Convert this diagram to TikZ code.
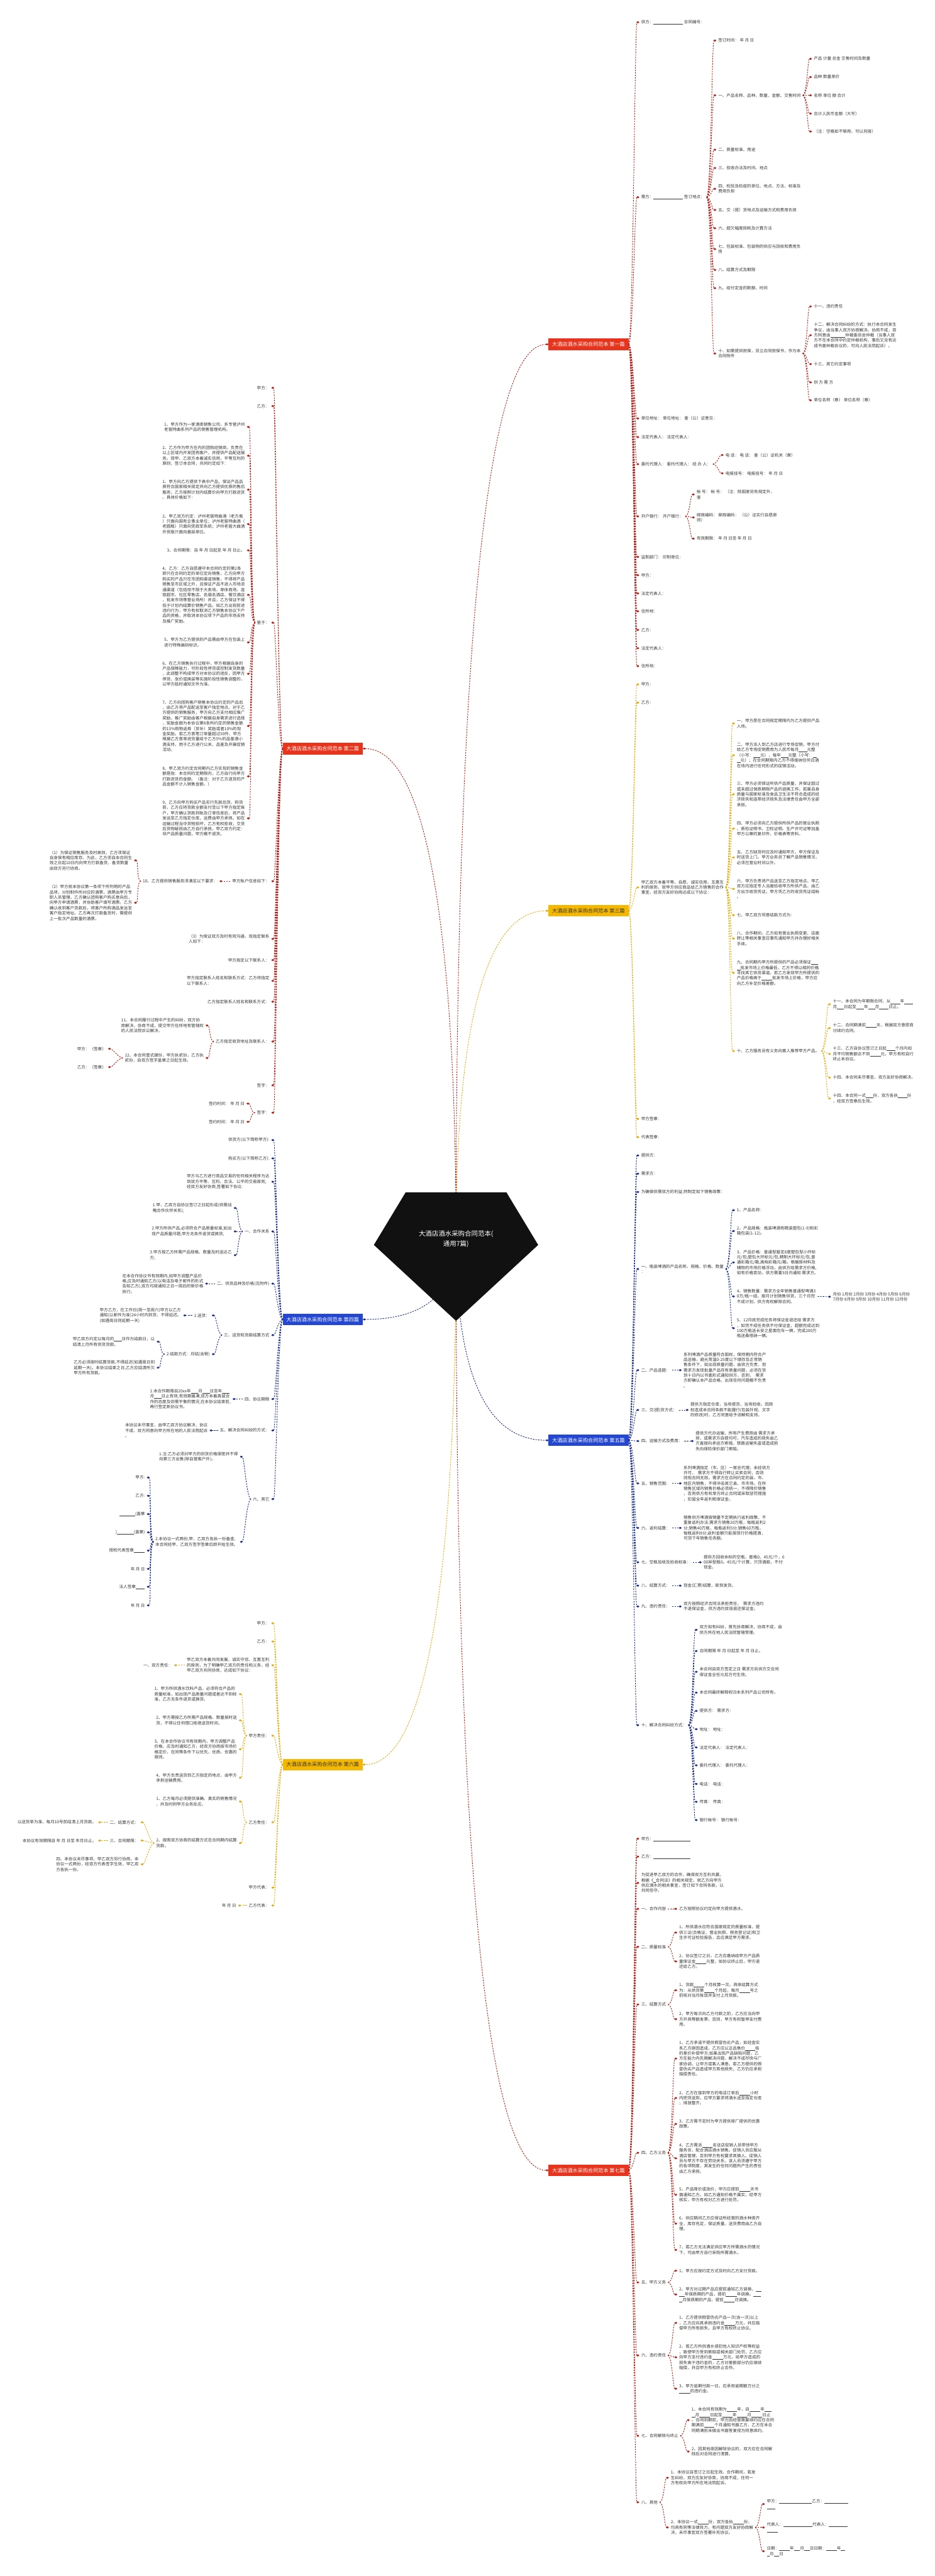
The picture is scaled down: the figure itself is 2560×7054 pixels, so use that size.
\documentclass[tikz,border=0pt]{standalone}
\usepackage{fontspec}
\setmainfont{Noto Sans CJK SC}
\usetikzlibrary{arrows.meta}
\definecolor{boxred}{HTML}{E8341C}
\definecolor{linered}{HTML}{B3211B}
\definecolor{boxyel}{HTML}{F5B800}
\definecolor{lineyel}{HTML}{E3A90E}
\definecolor{boxblue}{HTML}{2447D3}
\definecolor{lineblue}{HTML}{1B2C8A}
\definecolor{txtgray}{HTML}{333333}
\definecolor{rootblack}{HTML}{111111}
\newcommand{\leaffont}{\fontsize{11.3pt}{14.4pt}\selectfont}
\newcommand{\branchfont}{\fontsize{14pt}{16pt}\selectfont}
\newcommand{\rootfont}{\fontsize{18pt}{27pt}\selectfont}
\newcommand{\fillin}[1]{\rule[-1.5pt]{#1pt}{0.6pt}}
\begin{document}
\begin{tikzpicture}[x=1pt,y=-1pt,line join=round,font=\leaffont]
\tikzset{
  leafr/.style={anchor=west,align=left,inner xsep=5pt,inner ysep=1pt,text=txtgray},
  leafl/.style={leafr,anchor=east},
  branch/.style={minimum width=219pt,minimum height=32pt,inner sep=0pt,font=\branchfont},
  redbox/.style={branch,fill=boxred,text=white},
  yelbox/.style={branch,fill=boxyel,text=txtgray},
  bluebox/.style={branch,fill=boxblue,text=white},
  link/.style={dash pattern=on 4pt off 3pt,line width=1.6pt,-{Diamond[length=8pt,width=6pt]}},
  redlink/.style={link,draw=linered},
  yellink/.style={link,draw=lineyel},
  bluelink/.style={link,draw=lineblue},
  rootlabel/.style={text=white,font=\rootfont,align=center,inner sep=0pt}
}
\useasboundingbox (0,0) rectangle (2560,7054);
\coordinate (hub) at (1249,3400);

% branch boxes
\node[redbox] (b1) at (1612,943) {大酒店酒水采购合同范本 第一篇};
\node[redbox] (b2) at (884,2050) {大酒店酒水采购合同范本 第二篇};
\node[yelbox] (b3) at (1612,2494) {大酒店酒水采购合同范本 第三篇};
\node[bluebox] (b4) at (884,3613) {大酒店酒水采购合同范本 第四篇};
\node[bluebox] (b5) at (1612,3944) {大酒店酒水采购合同范本 第五篇};
\node[yelbox] (b6) at (884,4832) {大酒店酒水采购合同范本 第六篇};
\node[redbox] (b7) at (1612,5943) {大酒店酒水采购合同范本 第七篇};

\draw[redlink] (hub) .. controls +(0,-1300) and +(-200,0) .. (b1.west);
\draw[redlink] (hub) .. controls +(0,-700) and +(200,0) .. (b2.east);
\draw[yellink] (hub) .. controls +(0,-480) and +(-200,0) .. (b3.west);
\draw[bluelink] (hub) .. controls +(0,110) and +(200,0) .. (b4.east);
\draw[bluelink] (hub) .. controls +(0,290) and +(-200,0) .. (b5.west);
\draw[yellink] (hub) .. controls +(0,760) and +(200,0) .. (b6.east);
\draw[redlink] (hub) .. controls +(0,1350) and +(-200,0) .. (b7.west);

% ---------- first
\node[leafr] (a1) at (1751,61) {供方：\fillin{81} 合同编号：};
\node[leafr] (a2) at (1751,540) {需方：\fillin{81} 签订地点：};
\node[leafr] (a3) at (1751,1146) {单位地址： 单位地址： 鉴（公）证意见：};
\node[leafr] (a4) at (1751,1197) {法定代表人： 法定代表人：};
\node[leafr] (a5) at (1751,1271) {委托代理人： 委托代理人： 经 办 人：};
\node[leafr] (a6) at (1751,1414) {开户银行： 开户银行：};
\node[leafr] (a7) at (1751,1525) {监制部门： 印制单位：};
\node[leafr] (a8) at (1751,1575) {甲方：};
\node[leafr] (a9) at (1751,1625) {法定代表人：};
\node[leafr] (a10) at (1751,1674) {住所地：};
\node[leafr] (a11) at (1751,1725) {乙方：};
\node[leafr] (a12) at (1751,1775) {法定代表人：};
\node[leafr] (a13) at (1751,1824) {住所地：};
\foreach \i in {1,...,13} \draw[redlink] (b1.east) .. controls +(12,0) and +(-12,0) .. (a\i.west);

\node[leafr] (c1) at (1962,111) {签订时间： 年 月 日};
\node[leafr] (c2) at (1962,261) {一、产品名称、品种、数量、金额、交售时间};
\node[leafr] (c3) at (1962,410) {二、质量标准、用途};
\node[leafr] (c4) at (1962,460) {三、验收办法及时间、地点};
\node[leafr] (c5) at (1962,517) {四、检验及检疫的单位、地点、方法、标准及\\费用负担};
\node[leafr] (c6) at (1962,575) {五、交（提）货地点及运输方式和费用负担};
\node[leafr] (c7) at (1962,625) {六、超欠幅度损耗及计算方法};
\node[leafr] (c8) at (1962,682) {七、包装标准、包装物的供应与回收和费用负\\担};
\node[leafr] (c9) at (1962,739) {八、结算方式及期限};
\node[leafr] (c10) at (1962,789) {九、给付定金的数额、时间};
\node[leafr] (c11) at (1962,968) {十、如需提供担保，另立合同担保书，作为本\\合同附件};
\foreach \i in {1,...,11} \draw[redlink] (a2.east) .. controls +(12,0) and +(-12,0) .. (c\i.west);

\node[leafr] (d1) at (2224,161) {产品 计量 总金 交售时间及数量};
\node[leafr] (d2) at (2224,211) {品种 数量单价};
\node[leafr] (d3) at (2224,261) {名称 单位 额 合计};
\node[leafr] (d4) at (2224,311) {合计人民币金额（大写）};
\node[leafr] (d5) at (2224,360) {（注：空格如不够用，可以另接）};
\foreach \i in {1,...,5} \draw[redlink] (c2.east) .. controls +(12,0) and +(-12,0) .. (d\i.west);

\node[leafr] (e1) at (2224,839) {十一、违约责任};
\node[leafr] (e2) at (2224,918) {十二、解决合同纠纷的方式：执行本合同发生\\争议，由当事人双方协商解决。协商不成，双\\方同意由\fillin{41}仲裁委员会仲裁（当事人双\\方不在本合同中约定仲裁机构，事后又没有达\\成书面仲裁协议的，可向人民法院起诉）。};
\node[leafr] (e3) at (2224,997) {十三、其它约定事项};
\node[leafr] (e4) at (2224,1047) {供 方 需 方};
\node[leafr] (e5) at (2224,1096) {单位名称（章） 单位名称（章）};
\foreach \i in {1,...,5} \draw[redlink] (c11.east) .. controls +(12,0) and +(-12,0) .. (e\i.west);

\node[leafr] (f1) at (1982,1246) {电 话： 电 话： 鉴（公）证机关（章）};
\node[leafr] (f2) at (1982,1296) {电报挂号： 电报挂号： 年 月 日};
\foreach \i in {1,2} \draw[redlink] (a5.east) .. controls +(12,0) and +(-12,0) .. (f\i.west);

\node[leafr] (g1) at (1903,1354) {帐 号： 帐 号： （注：除国家另有规定外，\\鉴};
\node[leafr] (g2) at (1903,1417) {邮政编码： 邮政编码： （公）证实行自愿原\\则）};
\node[leafr] (g3) at (1903,1475) {有效期限： 年 月 日至 年 月 日};
\foreach \i in {1,2,3} \draw[redlink] (a6.east) .. controls +(12,0) and +(-12,0) .. (g\i.west);

% ---------- third
\node[leafr] (h1) at (1751,1874) {甲方：};
\node[leafr] (h2) at (1751,1924) {乙方：};
\node[leafr] (h3) at (1751,2430) {甲乙双方本着平等、自愿、诚实信用、互惠互\\利的原则，就甲方供应商品给乙方销售的合作\\事宜，经双方友好协商达成以下协议：};
\node[leafr] (h4) at (1751,3064) {甲方签章：};
\node[leafr] (h5) at (1751,3114) {代表签章：};
\foreach \i in {1,...,5} \draw[yellink] (b3.east) .. controls +(12,0) and +(-12,0) .. (h\i.west);

\node[leafr] (i1) at (2013,1981) {一、甲方愿在合同规定期限内为乙方提供产品\\入场。};
\node[leafr] (i2) at (2013,2068) {二、甲方派人到乙方店进行专场促销，甲方付\\给乙方专场促销费用为人民币每月\fillin{23}元整\\（小写：\fillin{19}元），每年\fillin{20}元整（小写：\fillin{10}\\\fillin{10}元）；在合同期限内乙方不得接纳任何白酒\\在场内进行任何形式的促销活动。};
\node[leafr] (i3) at (2013,2175) {三、甲方必须保证所供产品质量，并保证超过\\或未超过保质期限产品的退换工作。若属自身\\质量与国家标准及食品卫生法不符合造成的经\\济损失和连带经济损失及法律责任由甲方全部\\承担。};
\node[leafr] (i4) at (2013,2269) {四、甲方必须向乙方提供所供产品的营业执照\\、质检证明书、卫检证明、生产许可证等加盖\\甲方公章的复印件、价格表等资料。};
\node[leafr] (i5) at (2013,2348) {五、乙方缺货时应及时通知甲方，甲方保证及\\时送货上门。甲方业务员了解产品销售情况，\\必须在营业时间以外。};
\node[leafr] (i6) at (2013,2434) {六、甲方负责将产品送至乙方指定地点。甲乙\\双方应指定专人当面验收甲方所供产品，由乙\\方出示收货凭证。甲方凭乙方的收货凭证结帐\\。};
\node[leafr] (i7) at (2013,2506) {七、甲乙双方同意结款方式为：};
\node[leafr] (i8) at (2013,2570) {八、合作期间，乙方如有营业执照变更、店面\\转让等相关事宜应事先通知甲方并办理好相关\\手续。};
\node[leafr] (i9) at (2013,2664) {九、合同期内甲方所提供的产品必须保证\fillin{19}\\\fillin{10}批发市场上价格最低，乙方不得以相同价格\\寻找其它供货渠道。若乙方发现甲方所提供的\\产品价格高于\fillin{29}批发市场上价格，甲方应\\向乙方补足价格差额。};
\node[leafr] (i10) at (2013,2878) {十、乙方服务员有义务向客人推荐甲方产品。};
\foreach \i in {1,...,10} \draw[yellink] (h3.east) .. controls +(12,0) and +(-12,0) .. (i\i.west);

\node[leafr] (j1) at (2276,2750) {十一、本合同为年期限合同，从\fillin{26}年\fillin{24}\\月\fillin{19}日起至\fillin{21}年\fillin{19}月\fillin{26}日止。};
\node[leafr] (j2) at (2276,2815) {十二、合同期满前\fillin{29}天，根据双方意愿商\\讨续约合同。};
\node[leafr] (j3) at (2276,2886) {十三、乙方自协议签订之日起\fillin{24}个月内如\\月平均销售额达不到\fillin{29}元，甲方有权自行\\终止本协议。};
\node[leafr] (j4) at (2276,2951) {十四、本合同未尽事宜，双方友好协商解决。};
\node[leafr] (j5) at (2276,3008) {十四、本合同一式\fillin{20}份，双方各执\fillin{25}份\\，经双方签章后生效。};
\foreach \i in {1,...,5} \draw[yellink] (i10.east) .. controls +(12,0) and +(-12,0) .. (j\i.west);

% ---------- fifth
\node[leafr] (k1) at (1751,3164) {提供方：};
\node[leafr] (k2) at (1751,3214) {需求方：};
\node[leafr] (k3) at (1751,3264) {为确保供需双方的利益,特制定如下销售政策：};
\node[leafr] (k4) at (1751,3475) {一、瓶装啤酒的产品名称、规格、价格、数量\\：};
\node[leafr] (k5) at (1751,3752) {二、产品选题：};
\node[leafr] (k6) at (1751,3861) {三、交(提)货方式：};
\node[leafr] (k7) at (1751,3946) {四、运输方式及费用：};
\node[leafr] (k8) at (1751,4062) {五、销售范围：};
\node[leafr] (k9) at (1751,4184) {六、返利结算：};
\node[leafr] (k10) at (1751,4278) {七、空瓶加收及验收标准：};
\node[leafr] (k11) at (1751,4342) {八、结算方式：};
\node[leafr] (k12) at (1751,4399) {九、违约责任：};
\node[leafr] (k13) at (1751,4724) {十、解决合同纠纷方式：};
\foreach \i in {1,...,13} \draw[bluelink] (b5.east) .. controls +(12,0) and +(-12,0) .. (k\i.west);

\node[leafr] (l1) at (2013,3314) {1、产品名称：};
\node[leafr] (l2) at (2013,3371) {2、产品规格：瓶装啤酒有精装塑包(1-9)和彩\\箱包装(1-12)。};
\node[leafr] (l3) at (2013,3457) {3、产品价格：普通型暂定8度塑包型小环标\\元/包;塑包大环标元/包,精制大环标元/包,普\\通彩箱元/箱,高档彩箱元/箱。根据原材料及\\辅物的市场价格浮动，由供方给需求方价格,\\如有价格变动，供方需要3日内通知 需求方。};
\node[leafr] (l4) at (2013,3550) {4、销售数量：需求方全年销售普通型啤酒3\\0万/瓶一组，按月计划销售供货，三个月完\\不成计划，供方有权解除合同。};
\node[leafr] (l5) at (2013,3637) {5、12月底完成任务将保证金退还给 需求方\\，如完不成任务供不付保证金，超额完成达到\\100万瓶送长安之星面包车一辆，完成200万\\瓶送桑塔纳一辆。};
\foreach \i in {1,...,5} \draw[bluelink] (k4.east) .. controls +(12,0) and +(-12,0) .. (l\i.west);

\node[leafr] (m1) at (2276,3551) {月份 1月份 2月份 3月份 4月份 5月份 6月份\\7月份 8月份 9月份 10月份 11月份 12月份};
\draw[bluelink] (l4.east) -- (m1.west);

\node[leafr] (p5) at (1867,3752) {系列啤酒产品质量符合国标，保持期内符合产\\品运输，避光常温0-25度以下储存及正常销\\售条件下，如出现质量问题，由供方负责，但\\需求方发现批量产品存有质量问题，必须在货\\到十日内以书面形式通知供方，否则，\ \ 需求\\方即确认本产品合格，出现任何问题概不负责\\。};
\node[leafr] (p6) at (1886,3861) {提供方指定仓库，当场提货，当场验收。因商\\标造成本合同条款不能履行(包装外观、文字\\的修改)时，乙方同意给予谅解和支持。};
\node[leafr] (p7) at (1900,3946) {提供方代办运输，所有产生费用由 需求方承\\担，或需求方自提均可，汽车造成的损失由乙\\方直接向承运方索赔，铁路运输失盗或造成损\\失向保险保价部门索赔。};
\node[leafr] (p8) at (1867,4062) {系列啤酒指定（市、区）一家总代理，未经供方\\许可，\ \ 需求方不得自行转让买卖合同，否则\\则视合同无效。需求方在合同约定的县、市、\\地区内销售，不得冲击其它县、市市场。在所\\销售区域内销售价格必须统一，不得降价销售\\，否则供方有权单方终止合同或采取惩罚措施\\，扣留全年返利和保证金。};
\node[leafr] (p9) at (1867,4184) {销售供方啤酒按销量不定期执行返利政策、不\\重复返利办法;需求方销售20万瓶，每瓶返利2\\分;销售40万瓶，每瓶返利5分;销售60万瓶，\\每瓶返利8分;返利金额只能按现行价格提酒，\\可顶下年销售任务额。};
\node[leafr] (p10) at (1922,4278) {提供方回收本标的空瓶，普瓶0。45元/个，6\\00异型瓶0。45元/个计算，只顶酒款，不付\\现金。};
\node[leafr] (p11) at (1867,4342) {现金(汇票)结算，款到发货。};
\node[leafr] (p12) at (1867,4399) {双方按照经济合同法承担责任，\ \ 需求方违约\\不退保证金，供方违约双倍退还保证金。};
\foreach \i in {5,...,12} \draw[bluelink] (k\i.east) -- (p\i.west);

\node[leafr] (q1) at (1911,4463) {双方如有纠纷，首先协商解决，协商不成，由\\供方所在地人民法院管辖受理。};
\node[leafr] (q2) at (1911,4521) {合同期限 年 月 日起至 年 月 日止。};
\node[leafr] (q3) at (1911,4578) {本合同自双方签定之日 需求方向供方交合同\\保证金全任元后方可生效。};
\node[leafr] (q4) at (1911,4635) {本合同最终解释权归本系列产品公司所有。};
\node[leafr] (q5) at (1911,4685) {提供方： 需求方：};
\node[leafr] (q6) at (1911,4735) {地址： 地址：};
\node[leafr] (q7) at (1911,4785) {法定代表人： 法定代表人：};
\node[leafr] (q8) at (1911,4834) {委托代理人： 委托代理人：};
\node[leafr] (q9) at (1911,4885) {电话： 电话：};
\node[leafr] (q10) at (1911,4934) {传真： 传真：};
\node[leafr] (q11) at (1911,4984) {银行帐号： 银行帐号：};
\foreach \i in {1,...,11} \draw[bluelink] (k13.east) .. controls +(12,0) and +(-12,0) .. (q\i.west);

% ---------- seventh
\node[leafr] (r1) at (1751,5035) {甲方：\fillin{101}};
\node[leafr] (r2) at (1751,5084) {乙方：\fillin{101}};
\node[leafr] (r3) at (1751,5156) {为促进甲乙双方的合作，确保双方互利共赢，\\根据《\fillin{6}合同法》的相关规定，就乙方向甲方\\供应酒水的相关事宜，签订如下合同条款，以\\共同信守。};
\node[leafr] (r4) at (1751,5227) {一、合作内容};
\node[leafr] (r5) at (1751,5331) {二、质量标准};
\node[leafr] (r6) at (1751,5489) {三、结算方式};
\node[leafr] (r7) at (1751,5895) {四、乙方义务};
\node[leafr] (r8) at (1751,6250) {五、甲方义务};
\node[leafr] (r9) at (1751,6450) {六、违约责任};
\node[leafr] (r10) at (1751,6670) {七、合同解除与终止};
\node[leafr] (r11) at (1751,6852) {八、其他};
\foreach \i in {1,...,11} \draw[redlink] (b7.east) .. controls +(12,0) and +(-12,0) .. (r\i.west);

\node[leafr] (s1) at (1855,5227) {乙方按照协议约定向甲方提供酒水。};
\draw[redlink] (r4.east) -- (s1.west);
\node[leafr] (s2) at (1855,5292) {1、所供酒水应符合国家规定的质量标准，提\\供三证(合格证、营业执照、税务登记证)和卫\\生许可证检验报告，且应满足甲方需求。};
\node[leafr] (s3) at (1855,5371) {2、协议签订之日，乙方应缴纳给甲方产品质\\量保证金\fillin{29}元整，如协议终止后，甲方退\\还给乙方。};
\foreach \i in {2,3} \draw[redlink] (r5.east) .. controls +(12,0) and +(-12,0) .. (s\i.west);
\node[leafr] (s4) at (1855,5450) {1、货款\fillin{29}个月核算一次。具体结算方式\\为：从供货第\fillin{29}个月起，每月\fillin{29}号之\\前核对当月账目并支付上月货款。};
\node[leafr] (s5) at (1855,5529) {2、甲方每次向乙方付款之前，乙方应当向甲\\方开具等额发票，否则，甲方有权暂停支付费\\用。};
\foreach \i in {4,5} \draw[redlink] (r6.east) .. controls +(12,0) and +(-12,0) .. (s\i.west);

\node[leafr] (t1) at (1855,5637) {1、乙方承诺不提供假冒伪劣产品，如经查实\\系乙方原因造成，乙方应以正品售价\fillin{27}倍\\的差价补偿甲方;如果出现产品缺陷问题，乙\\方在能力内先期解决问题，解决不成尽快与厂\\家协调，让甲方或客人满意。若乙方提供的假\\冒伪劣产品造成甲方其他损失，乙方仍应承担\\赔偿责任。};
\node[leafr] (t2) at (1855,5745) {2、乙方在接到甲方的电话订单后\fillin{30}小时\\内把货送到，应甲方要求将酒水送至指定仓库\\，排放整齐。};
\node[leafr] (t3) at (1855,5816) {3、乙方需不定时为甲方提供原厂提供的优惠\\政策。};
\node[leafr] (t4) at (1855,5910) {4、乙方需派\fillin{29}名驻店促销人员带领甲方\\服务员，配合酒店酒水销售。促销人员应服从\\酒店管理，否则甲方有权要求其换人。促销人\\员与甲方不存在劳动关系，该人员须遵守甲方\\的各项制度，其发生的任何问题所产生的责任\\由乙方承担。};
\node[leafr] (t5) at (1855,6010) {5、产品降价或涨价，甲方应提前\fillin{30}天书\\面通知乙方。如乙方通知价格不属实，经甲方\\核实，甲方有权对乙方进行处罚。};
\node[leafr] (t6) at (1855,6089) {6、供应期间乙方应保证所经营的酒水种类齐\\全，库存充足，保证质量。送货费用由乙方自\\理。};
\node[leafr] (t7) at (1855,6161) {7、若乙方无法满足供应甲方所需酒水的情况\\下，可由甲方自行采购所需酒水。};
\foreach \i in {1,...,7} \draw[redlink] (r7.east) .. controls +(12,0) and +(-12,0) .. (t\i.west);

\node[leafr] (u1) at (1855,6218) {1、甲方应按约定方式及时向乙方支付货款。};
\node[leafr] (u2) at (1855,6283) {2、甲方对过期产品应提前通知乙方调换，\fillin{16}\\\fillin{15}年保质期的产品，提前\fillin{30}年调换。\fillin{20}\\\fillin{9}月保质期的产品，提前\fillin{30}月调换。};
\foreach \i in {1,2} \draw[redlink] (r8.east) .. controls +(12,0) and +(-12,0) .. (u\i.west);
\node[leafr] (u3) at (1855,6361) {1、乙方提供假冒伪劣产品一次(含一次)以上\\，乙方应向其承担违约金\fillin{29}万元，并应赔\\偿甲方所有损失，且甲方有权终止协议。};
\node[leafr] (u4) at (1855,6455) {2、若乙方所供酒水侵犯他人知识产权等权益\\，致使甲方受到索赔或相关部门处罚，乙方应\\向甲方支付违约金\fillin{30}万元，给甲方造成的\\损失高于违约金的，乙方对差额部分仍应继续\\赔偿，并且甲方有权终止合作。};
\node[leafr] (u5) at (1855,6541) {3、甲方逾期付款一日，应承担逾期额万分之\\\fillin{30}的违约金。};
\foreach \i in {3,4,5} \draw[redlink] (r9.east) .. controls +(12,0) and +(-12,0) .. (u\i.west);

\node[leafr] (v1) at (1889,6627) {1、本合同有效期为\fillin{28}年，自\fillin{30}年\fillin{19}\\\fillin{10}月\fillin{29}日起至\fillin{28}年\fillin{29}月\fillin{30}日止\\。合同到期前，甲方因经营需要续约应在合同\\期满前\fillin{29}个月通知书面乙方，乙方在本合\\同期满前未做出书面答复视为同意续约。};
\node[leafr] (v2) at (1889,6713) {2、因其他原因解除协议的，双方应在合同解\\除后对合同进行清算。};
\foreach \i in {1,2} \draw[redlink] (r10.east) .. controls +(12,0) and +(-12,0) .. (v\i.west);

\node[leafr] (w1) at (1832,6785) {1、本协议自签订之日起生效。合作期间，若发\\生纠纷，双方应友好协商，协商不成，任何一\\方有权向甲方所在地法院起诉。};
\node[leafr] (w2) at (1832,6921) {2、本协议一式\fillin{29}份，双方各执\fillin{29}份，\\均具有同等法律效力，有问题双方友好协商解\\决，未尽事宜双方签署补充协议。};
\foreach \i in {1,2} \draw[redlink] (r11.east) .. controls +(12,0) and +(-12,0) .. (w\i.west);

\node[leafr] (x1) at (2095,6857) {甲方：\fillin{90}乙方：\fillin{65}\\\fillin{24}};
\node[leafr] (x2) at (2095,6921) {代表人：\fillin{80}代表人：\fillin{50}\\\fillin{30}};
\node[leafr] (x3) at (2095,6986) {日期：\fillin{29}年\fillin{17}月\fillin{15}日日期：\fillin{29}年\fillin{12}\\\fillin{8}月\fillin{15}日};
\foreach \i in {1,2,3} \draw[redlink] (w2.east) .. controls +(12,0) and +(-12,0) .. (x\i.west);

% ---------- second
\node[leafl] (L1) at (743,1062) {甲方：};
\node[leafl] (L2) at (743,1112) {乙方：};
\node[leafl] (L3) at (743,1705) {鉴于：};
\node[leafl] (L4) at (743,2413) {甲方账户信息如下：};
\node[leafl] (L5) at (743,2571) {（3）为保证双方及时有效沟通，现指定联系\\人如下：};
\node[leafl] (L6) at (743,2629) {甲方指定以下联系人：};
\node[leafl] (L7) at (743,2686) {甲方指定联系人姓名和联系方式：乙方待指定\\以下联系人：};
\node[leafl] (L8) at (743,2743) {乙方指定联系人姓名和联系方式：};
\node[leafl] (L9) at (743,2852) {乙方指定收货地址及联系人：};
\node[leafl] (L10) at (743,2972) {签字：};
\node[leafl] (L11) at (743,3047) {签字：};
\foreach \i in {1,...,11} \draw[redlink] (b2.west) .. controls +(-12,0) and +(12,0) .. (L\i.east);

\node[leafl] (M1) at (676,1169) {1、甲方作为一家酒类销售公司，系专营泸州\\老窖特曲系列产品的销售管理机构。};
\node[leafl] (M2) at (676,1248) {2、乙方作为甲方在内的团购经销商，负责在\\以上区域内开发团购客户，并提供产品配送服\\务。现甲、乙双方本着诚实信用，平等互利的\\原则，签订本合同，共同约定如下：};
\node[leafl] (M3) at (676,1341) {1、甲方向乙方提供下表中产品，保证产品品\\质符合国家相关规定并向乙方提供优质的售后\\服务；乙方按照计划内结算价向甲方打款进货\\。具体价格如下：};
\node[leafl] (M4) at (676,1435) {2、甲乙双方约定：泸州老窖特曲酒（老方瓶\\）只面向国有企事业单位；泸州老窖特曲酒（\\老圆瓶）只面向党政军系统；泸州老窖大曲酒\\外贸版只面向基层单位。};
\node[leafl] (M5) at (676,1507) {3、合同期限：自 年 月 日起至 年 月 日止。};
\node[leafl] (M6) at (676,1629) {4、乙方：乙方自愿遵守本合同约定的第2条\\即只在合同约定的单位定向销售，乙方向甲方\\购买的产品只在市团购渠道销售，不得将产品\\销售至市区域之外，且保证产品不进入市场流\\通渠道（包括但不限于大卖场、单体商场、连\\锁超市、社区零售店、名烟名酒店、餐饮酒店\\、批发市场等营业场所）并且，乙方保证不得\\低于计划内结算价销售产品。如乙方出现前述\\违约行为，甲方有权取消乙方销售本协议下产\\品的资格，并取消本协议项下产品的市场支持\\及推广奖励。};
\node[leafl] (M7) at (676,1759) {5、甲方为乙方提供的产品需由甲方在包装上\\进行特殊编码标识。};
\node[leafl] (M8) at (676,1845) {6、在乙方销售执行过程中，甲方根据自身的\\产品保障能力，可阶段性停货或控制发货数量\\，此调整不构成甲方对本协议的违反，因甲方\\停货、涨价或换装等实施阶段性销售调整的，\\以甲方临时通知文件为准。};
\node[leafl] (M9) at (676,1988) {7、乙方向团购客户销售本协议约定的产品后\\，由乙方将产品配送至客户指定地点。对于乙\\方提供的销售服务，甲方向乙方支付相应推广\\奖励，推广奖励由客户根据自身需求进行选择\\，奖励金额为本协议第8条所约定的销售金额\\的13\%购物返券（货补）奖励或者10\%的现\\金奖励。若乙方首笔订单量超过50件，甲方\\根据乙方首单进货量给于乙方5\%的品鉴酒小\\酒支持，用于乙方进行公关、品鉴及开展促销\\活动。};
\node[leafl] (M10) at (676,2126) {8、甲乙双方约定合同期内乙方实现的销售金\\额是指：本合同约定期限内，乙方自行向甲方\\打款进货的金额。（备注：对于乙方退货的产\\品金额不计入销售金额。）};
\node[leafl] (M11) at (676,2241) {9、乙方向甲方购买产品实行先款后货，购货\\前，乙方应将货款全额支付至以下甲方指定账\\户，甲方确认货款到账及订单信息后，将产品\\发运至乙方指定仓库，运费由甲方承担。如在\\运输过程当中货物损坏，乙方有权拒收；交货\\后货物破损由乙方自行承担。甲乙双方约定：\\非产品质量问题，甲方概不退货。};
\foreach \i in {1,...,11} \draw[redlink] (L3.west) .. controls +(-12,0) and +(12,0) .. (M\i.east);

\node[leafl] (N1) at (601,2413) {10、乙方提供销售服务须满足以下要求：};
\draw[redlink] (L4.west) -- (N1.east);
\node[leafl] (O1) at (367,2356) {（1）为保证销售服务及时高效，乙方须保证\\自身保有相应库存。为此，乙方须自本合同生\\效之日起10日内向甲方打款备货，备货数量\\由双方另行协商。};
\node[leafl] (O2) at (367,2472) {（2）甲方就本协议第一条项下所列明的产品\\品项，分别制作所对应的酒票，酒票由甲方专\\职人员管理。乙方确认团购客户购买意向后，\\向甲方申请酒票，并协助客户填写酒票。乙方\\确认收到客户货款后，将客户所购酒品发运至\\客户指定地址。乙方再次打款备货时，需提供\\上一批次产品数量的酒票。};
\foreach \i in {1,2} \draw[redlink] (N1.west) .. controls +(-12,0) and +(12,0) .. (O\i.east);

\node[leafl] (P1) at (563,2808) {11、本合同履行过程中产生的纠纷，双方协\\商解决，协商不成，提交甲方住所地有管辖权\\的人民法院诉讼解决。};
\node[leafl] (P2) at (563,2897) {12、本合同壹式肆份，甲方执贰份，乙方执\\贰份，自双方签字盖章之日起生效。};
\foreach \i in {1,2} \draw[redlink] (L9.west) .. controls +(-12,0) and +(12,0) .. (P\i.east);
\node[leafl] (Q1) at (296,2872) {甲方：（签章）};
\node[leafl] (Q2) at (296,2922) {乙方：（签章）};
\foreach \i in {1,2} \draw[redlink] (P2.west) .. controls +(-12,0) and +(12,0) .. (Q\i.east);
\node[leafl] (R1) at (675,3022) {签约时间： 年 月 日};
\node[leafl] (R2) at (675,3072) {签约时间： 年 月 日};
\foreach \i in {1,2} \draw[redlink] (L11.west) .. controls +(-12,0) and +(12,0) .. (R\i.east);

% ---------- fourth
\node[leafl] (S1) at (743,3122) {供货方(以下简称甲方):};
\node[leafl] (S2) at (743,3172) {购买方(以下简称乙方):};
\node[leafl] (S3) at (743,3236) {甲方与乙方进行商品交易的任何相关程序为达\\到双方平等、互利、合法、公平的交易原则,\\经双方友好协商,签署如下协议:};
\node[leafl] (S4) at (743,3372) {一、合作关系};
\node[leafl] (S5) at (743,3515) {二、供货品种及价格(见附件)};
\node[leafl] (S6) at (743,3656) {三、送货和货款结算方式};
\node[leafl] (S7) at (743,3831) {四、协议期限};
\node[leafl] (S8) at (743,3917) {五、解决合同纠纷的方式：};
\node[leafl] (S9) at (743,4105) {六、其它};
\foreach \i in {1,...,9} \draw[bluelink] (b4.west) .. controls +(-12,0) and +(12,0) .. (S\i.east);

\node[leafl] (T1) at (640,3308) {1.甲、乙双方自协议签订之日起形成(供需战\\略合作伙伴关系);};
\node[leafl] (T2) at (640,3372) {2.甲方所供产品,必须符合产品质量标准,如出\\现产品质量问题,甲方无条件退货或换货;};
\node[leafl] (T3) at (640,3437) {3.甲方按乙方所需产品规格、数量及时送达乙\\方;};
\foreach \i in {1,2,3} \draw[bluelink] (S4.west) .. controls +(-12,0) and +(12,0) .. (T\i.east);
\node[leafl] (T4) at (562,3515) {在本合作协议书有效期内,如甲方调整产品价\\格,应及时通知乙方(以电话及电子邮件的形式\\告知乙方),双方均按通知之日一周后的新价格\\执行。};
\draw[bluelink] (S5.west) -- (T4.east);
\node[leafl] (T5) at (580,3602) {1.送货：};
\node[leafl] (T6) at (580,3708) {2.结款方式：月结(含税)};
\foreach \i in {5,6} \draw[bluelink] (S6.west) .. controls +(-12,0) and +(12,0) .. (T\i.east);
\node[leafl] (U1) at (502,3602) {甲方乙方，在工作日(周一至周六)甲方以乙方\\通知(以邮件为准)24小时内到货，不得延迟。\\(如遇周日则延期一天)};
\draw[bluelink] (T5.west) -- (U1.east);
\node[leafl] (U2) at (429,3674) {甲乙双方约定以每月的\fillin{21}日作为结款日，以\\结清上月所有供货货款。};
\node[leafl] (U3) at (429,3745) {乙方必须按时结算货款,不得延迟(如遇周日则\\延期一天)。本协议结束之日,乙方应结清所欠\\甲方所有货款。};
\foreach \i in {2,3} \draw[bluelink] (T6.west) .. controls +(-12,0) and +(12,0) .. (U\i.east);
\node[leafl] (U4) at (637,3831) {1.本合作期限自20xx年\fillin{20}月\fillin{20}日至年\fillin{20}\\月\fillin{20}日止有效,有效期届满,双方本着真诚合\\作的态度及供需平衡的情况,在本协议结束前,\\再行签定新协议书。};
\draw[bluelink] (S7.west) -- (U4.east);
\node[leafl] (U5) at (574,3917) {本协议未尽事宜，由甲乙双方协议解决，协议\\不成，双方同意向甲方所在地的人民法院起诉\\。};
\draw[bluelink] (S8.west) -- (U5.east);
\node[leafl] (V1) at (657,3989) {1.注:乙方必须对甲方的供货价格保密并不得\\向第三方出售(除自营客户外)。};
\node[leafl] (V2) at (657,4222) {2.本协议一式两份,甲、乙双方各执一份备查,\\本合同经甲、乙双方签字签章后即开始生效。};
\foreach \i in {1,2} \draw[bluelink] (S9.west) .. controls +(-12,0) and +(12,0) .. (V\i.east);
\node[leafl] (W1) at (402,4046) {甲方:};
\node[leafl] (W2) at (402,4096) {乙方:};
\node[leafl] (W3) at (402,4146) {\fillin{44}(盖章};
\node[leafl] (W4) at (402,4196) {)\fillin{46}(盖章)};
\node[leafl] (W5) at (402,4246) {授权代表签章\fillin{30}};
\node[leafl] (W6) at (402,4296) {年 月 日};
\node[leafl] (W7) at (402,4345) {法人签章\fillin{25}};
\node[leafl] (W8) at (402,4396) {年 月 日};
\foreach \i in {1,...,8} \draw[bluelink] (V2.west) .. controls +(-12,0) and +(12,0) .. (W\i.east);

% ---------- sixth
\node[leafl] (X1) at (743,4445) {甲方：};
\node[leafl] (X2) at (743,4495) {乙方：};
\node[leafl] (X3) at (743,4560) {甲乙双方本着共同发展、诚实守信、互惠互利\\的原则，为了明确甲乙双方的责任和义务，经\\甲乙双方共同协商，达成如下协议：};
\node[leafl] (X4) at (743,4753) {甲方责任：};
\node[leafl] (X5) at (743,4990) {乙方责任：};
\node[leafl] (X6) at (743,5169) {甲方代表：};
\node[leafl] (X7) at (743,5218) {乙方代表：};
\foreach \i in {1,...,7} \draw[yellink] (b6.west) .. controls +(-12,0) and +(12,0) .. (X\i.east);

\node[leafl] (Y1) at (477,4560) {一、双方责任：};
\draw[yellink] (X3.west) -- (Y1.east);
\node[leafl] (Y2) at (654,4639) {1、甲方所供酒水饮料产品，必须符合产品的\\质量标准，如出现产品质量问题或者达不到标\\准，乙方无条件退货或换货。};
\node[leafl] (Y3) at (654,4711) {2、甲方需按乙方所需产品规格、数量按时送\\货，不得以任何借口拒绝送货时间。};
\node[leafl] (Y4) at (654,4790) {3、在本合作协议书有效期内，甲方调整产品\\价格，应及时通知乙方，经双方协商按市场价\\格定价，在同等条件下以优先、优质、优惠的\\原则。};
\node[leafl] (Y5) at (654,4868) {4、甲方负责送货到乙方指定的地点，由甲方\\承担运输费用。};
\foreach \i in {2,...,5} \draw[yellink] (X4.west) .. controls +(-12,0) and +(12,0) .. (Y\i.east);
\node[leafl] (Y6) at (654,4933) {1、乙方每月必须提供准确、真实的销售情况\\，并及时同甲方业务反应。};
\node[leafl] (Y7) at (654,5047) {2、按照双方协商的结算方式在合同期内结算\\货款。};
\foreach \i in {6,7} \draw[yellink] (X5.west) .. controls +(-12,0) and +(12,0) .. (Y\i.east);
\node[leafl] (Z1) at (385,4990) {二、结算方式：};
\node[leafl] (Z2) at (385,5040) {三、合同期限：};
\node[leafl] (Z3) at (385,5105) {四、本协议未尽事项，甲乙双方另行协商，本\\协议一式两份，经双方代表签字生效，甲乙双\\方各执一份。};
\foreach \i in {1,2,3} \draw[yellink] (Y7.west) .. controls +(-12,0) and +(12,0) .. (Z\i.east);
\node[leafl] (Z4) at (269,4990) {以送货单为准，每月10号前结清上月货款。};
\node[leafl] (Z5) at (269,5040) {本协议有效期限自 年 月 日至 年月日止。};
\draw[yellink] (Z1.west) -- (Z4.east);
\draw[yellink] (Z2.west) -- (Z5.east);
\node[leafl] (Z6) at (652,5218) {年 月 日};
\draw[yellink] (X7.west) -- (Z6.east);

% root on top of the connectors
\fill[rootblack] (1111,3265) -- (1387,3265) -- (1474,3409) -- (1249,3617) -- (1024,3409) -- cycle;
\node[rootlabel] (root) at (1249,3393) {大酒店酒水采购合同范本(\\通用7篇)};
\end{tikzpicture}
\end{document}
